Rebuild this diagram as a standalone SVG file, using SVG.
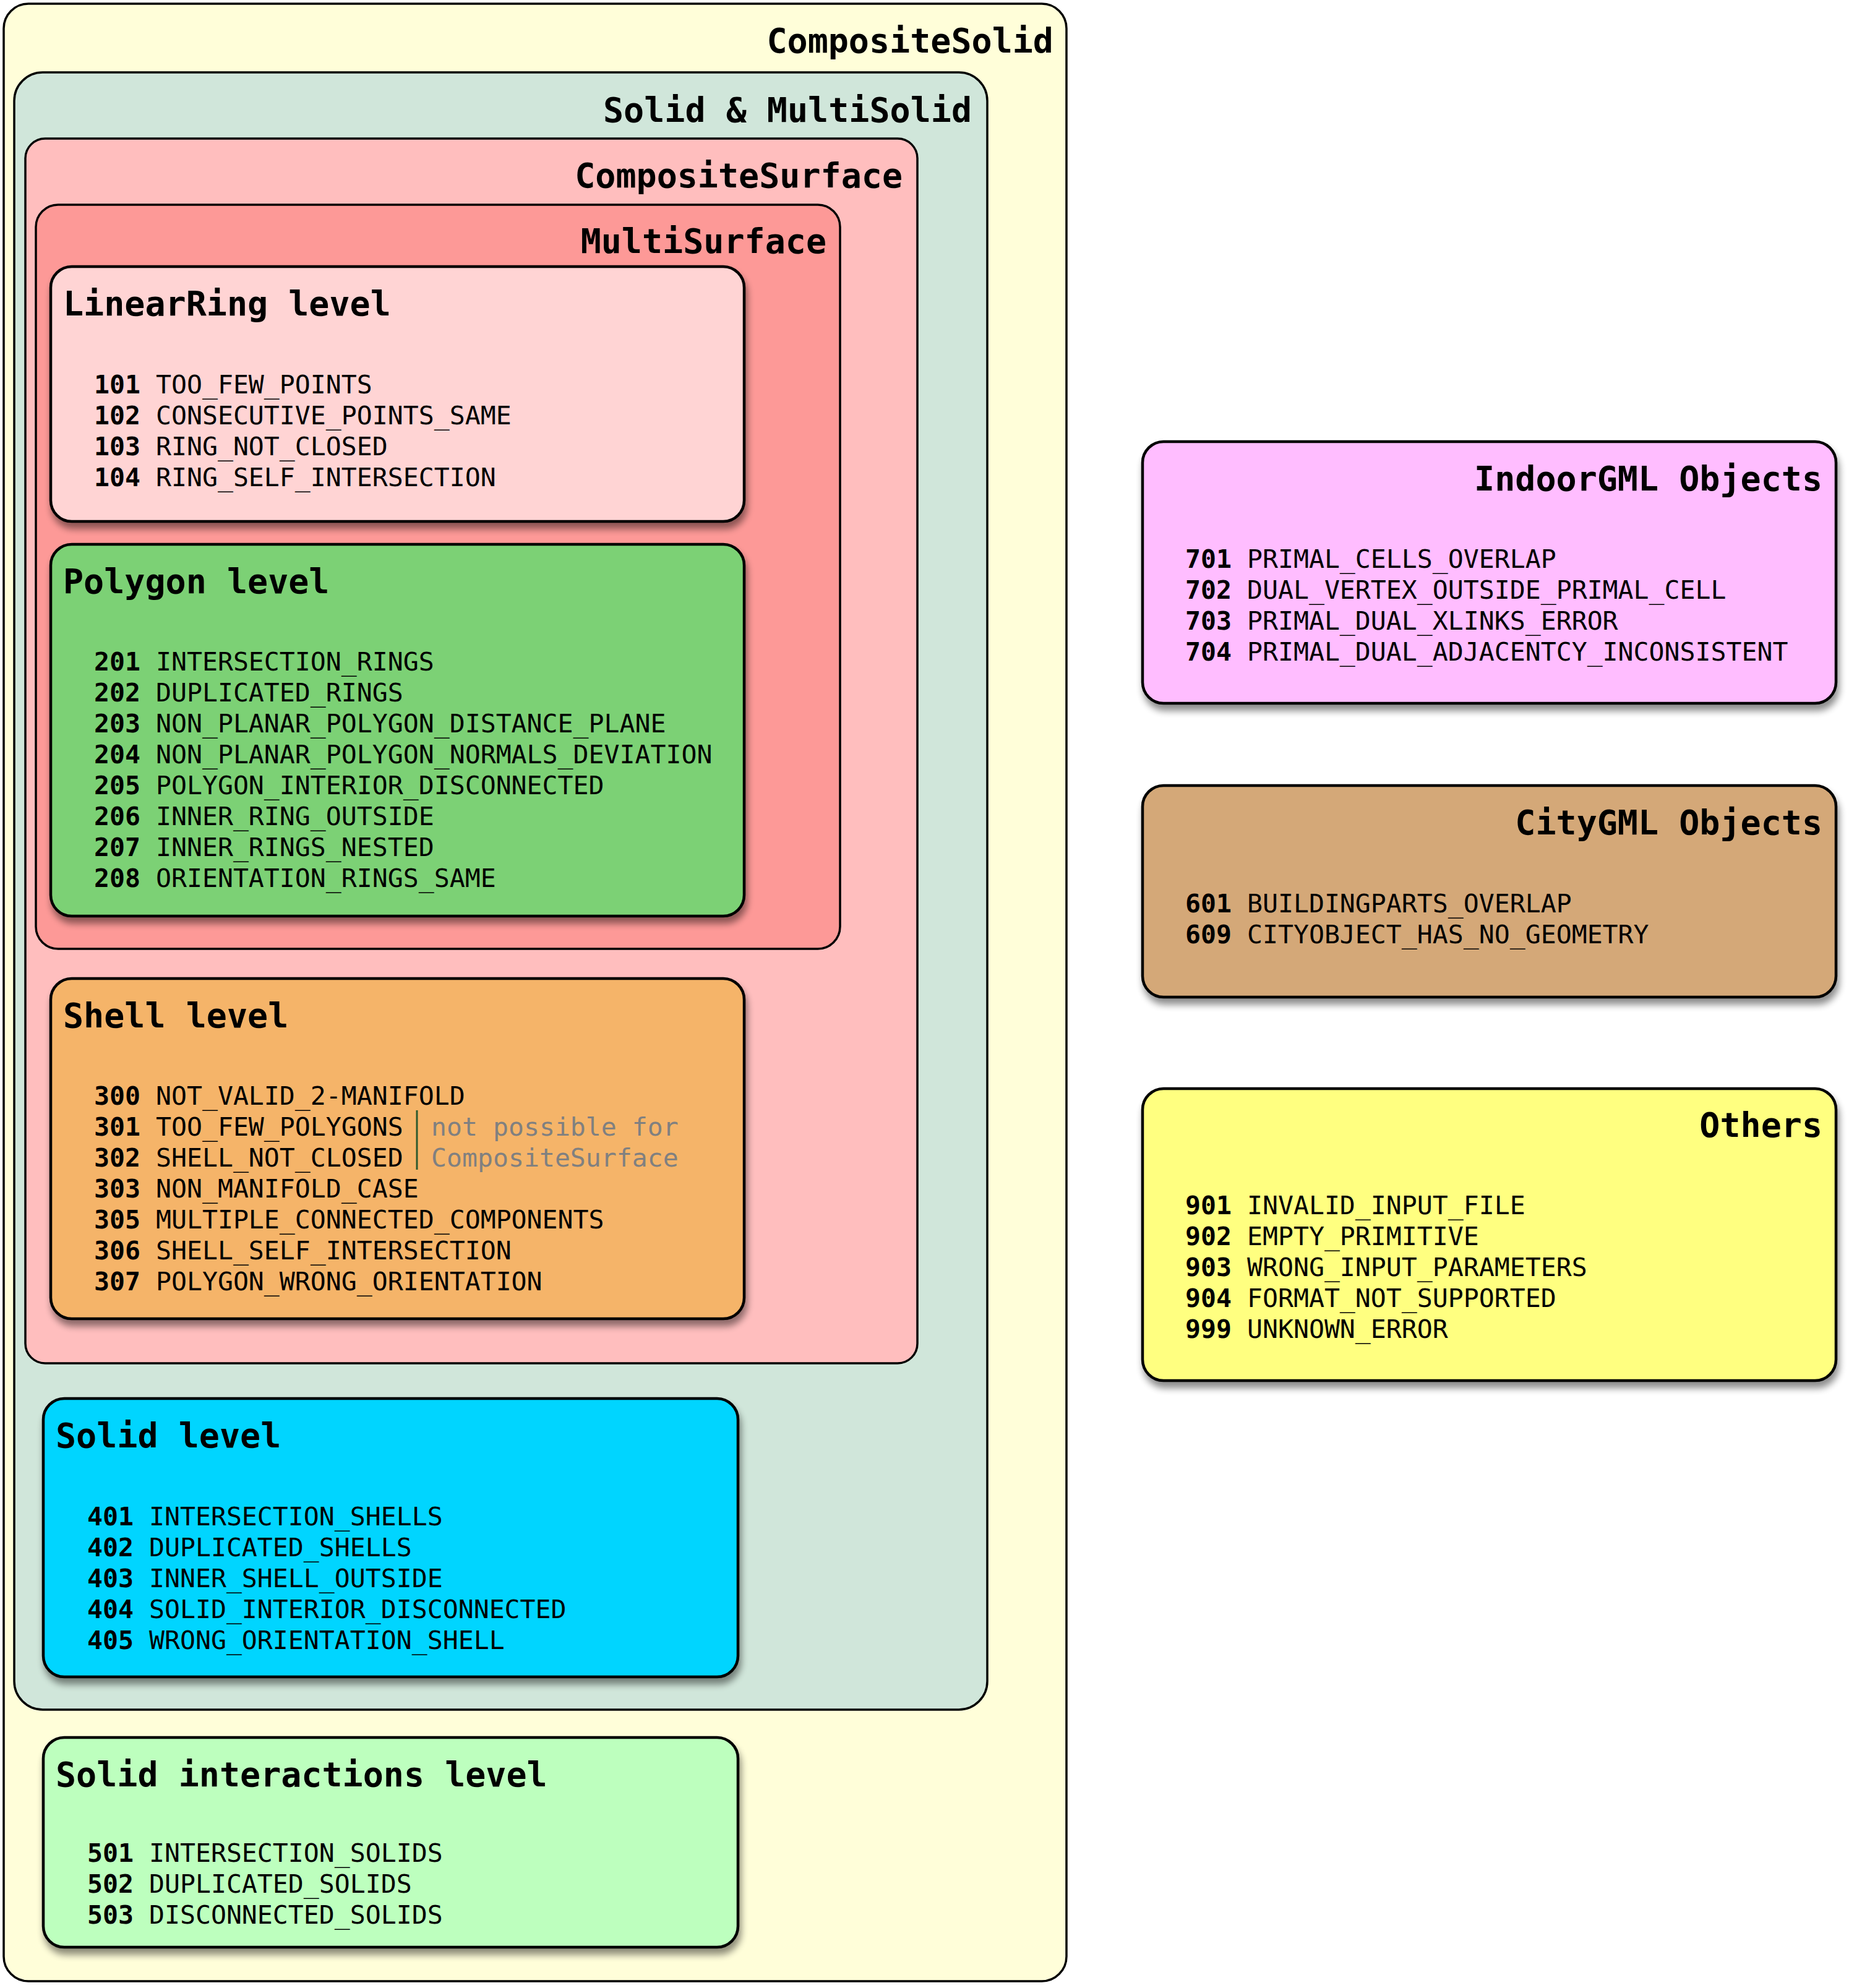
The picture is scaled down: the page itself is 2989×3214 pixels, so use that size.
<svg xmlns="http://www.w3.org/2000/svg" width="2989" height="3214" viewBox="0 0 2989 3214">
<defs>
<filter id="sh" x="-5%" y="-5%" width="112%" height="118%">
<feGaussianBlur in="SourceAlpha" stdDeviation="6"/>
<feOffset dx="3" dy="10" result="b"/>
<feComponentTransfer><feFuncA type="linear" slope="0.45"/></feComponentTransfer>
<feMerge><feMergeNode/><feMergeNode in="SourceGraphic"/></feMerge>
</filter>
</defs>
<style>
.c{stroke:#000;stroke-width:3.5}
.l{stroke:#000;stroke-width:4.5}
text{font-family:"DejaVu Sans Mono","Liberation Mono",monospace;fill:#000}
.t{font-size:55px;font-weight:bold}
.tr{font-size:55px;font-weight:bold;text-anchor:end}
.i{font-size:41.5px}
.n{font-weight:bold}
.g{fill:#808080}
</style>
<rect width="2989" height="3214" fill="#fff"/>
<g id="CompositeSolid">
<rect class="c" x="6" y="6" width="1718" height="3197" rx="40" fill="#FFFED9"/>
<text class="tr" x="1703" y="85">CompositeSolid</text>
</g>
<g id="SolidMultiSolid">
<rect class="c" x="23" y="117" width="1573" height="2647" rx="46" fill="#D0E6DA"/>
<text class="tr" x="1571" y="197">Solid &amp; MultiSolid</text>
</g>
<g id="CompositeSurface">
<rect class="c" x="41" y="224" width="1442" height="1980" rx="32" fill="#FFBEBE"/>
<text class="tr" x="1459" y="303">CompositeSurface</text>
</g>
<g id="MultiSurface">
<rect class="c" x="58" y="331" width="1300" height="1203" rx="36" fill="#FD9997"/>
<text class="tr" x="1336" y="409">MultiSurface</text>
</g>
<g id="LinearRingLevel">
<rect class="l" x="82" y="431" width="1121" height="412" rx="34" fill="#FFD4D4" filter="url(#sh)"/>
<text class="t" x="102" y="510">LinearRing level</text>
<text class="i" x="152" y="636"><tspan class="n">101</tspan> TOO_FEW_POINTS</text>
<text class="i" x="152" y="686"><tspan class="n">102</tspan> CONSECUTIVE_POINTS_SAME</text>
<text class="i" x="152" y="736"><tspan class="n">103</tspan> RING_NOT_CLOSED</text>
<text class="i" x="152" y="786"><tspan class="n">104</tspan> RING_SELF_INTERSECTION</text>
</g>
<g id="PolygonLevel">
<rect class="l" x="82" y="880" width="1121" height="601" rx="34" fill="#7BD174" filter="url(#sh)"/>
<text class="t" x="102" y="959">Polygon level</text>
<text class="i" x="152" y="1084"><tspan class="n">201</tspan> INTERSECTION_RINGS</text>
<text class="i" x="152" y="1134"><tspan class="n">202</tspan> DUPLICATED_RINGS</text>
<text class="i" x="152" y="1184"><tspan class="n">203</tspan> NON_PLANAR_POLYGON_DISTANCE_PLANE</text>
<text class="i" x="152" y="1234"><tspan class="n">204</tspan> NON_PLANAR_POLYGON_NORMALS_DEVIATION</text>
<text class="i" x="152" y="1284"><tspan class="n">205</tspan> POLYGON_INTERIOR_DISCONNECTED</text>
<text class="i" x="152" y="1334"><tspan class="n">206</tspan> INNER_RING_OUTSIDE</text>
<text class="i" x="152" y="1384"><tspan class="n">207</tspan> INNER_RINGS_NESTED</text>
<text class="i" x="152" y="1434"><tspan class="n">208</tspan> ORIENTATION_RINGS_SAME</text>
</g>
<g id="ShellLevel">
<rect class="l" x="82" y="1582" width="1121" height="550" rx="34" fill="#F5B469" filter="url(#sh)"/>
<text class="t" x="102" y="1661">Shell level</text>
<text class="i" x="152" y="1786"><tspan class="n">300</tspan> NOT_VALID_2-MANIFOLD</text>
<text class="i" x="152" y="1836"><tspan class="n">301</tspan> TOO_FEW_POLYGONS</text>
<text class="i" x="152" y="1886"><tspan class="n">302</tspan> SHELL_NOT_CLOSED</text>
<text class="i" x="152" y="1936"><tspan class="n">303</tspan> NON_MANIFOLD_CASE</text>
<text class="i" x="152" y="1986"><tspan class="n">305</tspan> MULTIPLE_CONNECTED_COMPONENTS</text>
<text class="i" x="152" y="2036"><tspan class="n">306</tspan> SHELL_SELF_INTERSECTION</text>
<text class="i" x="152" y="2086"><tspan class="n">307</tspan> POLYGON_WRONG_ORIENTATION</text>
<line x1="674" y1="1795" x2="674" y2="1891" stroke="#2E5A2E" stroke-width="3"/>
<text class="i g" x="697" y="1836">not possible for</text>
<text class="i g" x="697" y="1886">CompositeSurface</text>
</g>
<g id="SolidLevel">
<rect class="l" x="70" y="2261" width="1123" height="450" rx="34" fill="#00D5FF" filter="url(#sh)"/>
<text class="t" x="90" y="2340">Solid level</text>
<text class="i" x="141" y="2466"><tspan class="n">401</tspan> INTERSECTION_SHELLS</text>
<text class="i" x="141" y="2516"><tspan class="n">402</tspan> DUPLICATED_SHELLS</text>
<text class="i" x="141" y="2566"><tspan class="n">403</tspan> INNER_SHELL_OUTSIDE</text>
<text class="i" x="141" y="2616"><tspan class="n">404</tspan> SOLID_INTERIOR_DISCONNECTED</text>
<text class="i" x="141" y="2666"><tspan class="n">405</tspan> WRONG_ORIENTATION_SHELL</text>
</g>
<g id="SolidInteractionsLevel">
<rect class="l" x="70" y="2809" width="1123" height="339" rx="34" fill="#BDFFBE" filter="url(#sh)"/>
<text class="t" x="90" y="2888">Solid interactions level</text>
<text class="i" x="141" y="3010"><tspan class="n">501</tspan> INTERSECTION_SOLIDS</text>
<text class="i" x="141" y="3060"><tspan class="n">502</tspan> DUPLICATED_SOLIDS</text>
<text class="i" x="141" y="3110"><tspan class="n">503</tspan> DISCONNECTED_SOLIDS</text>
</g>
<g id="IndoorGMLObjects">
<rect class="l" x="1847" y="714" width="1121" height="423" rx="34" fill="#FFBDFF" filter="url(#sh)"/>
<text class="tr" x="2946" y="793">IndoorGML Objects</text>
<text class="i" x="1916" y="918"><tspan class="n">701</tspan> PRIMAL_CELLS_OVERLAP</text>
<text class="i" x="1916" y="968"><tspan class="n">702</tspan> DUAL_VERTEX_OUTSIDE_PRIMAL_CELL</text>
<text class="i" x="1916" y="1018"><tspan class="n">703</tspan> PRIMAL_DUAL_XLINKS_ERROR</text>
<text class="i" x="1916" y="1068"><tspan class="n">704</tspan> PRIMAL_DUAL_ADJACENTCY_INCONSISTENT</text>
</g>
<g id="CityGMLObjects">
<rect class="l" x="1847" y="1270" width="1121" height="342" rx="34" fill="#D4A878" filter="url(#sh)"/>
<text class="tr" x="2946" y="1349">CityGML Objects</text>
<text class="i" x="1916" y="1475"><tspan class="n">601</tspan> BUILDINGPARTS_OVERLAP</text>
<text class="i" x="1916" y="1525"><tspan class="n">609</tspan> CITYOBJECT_HAS_NO_GEOMETRY</text>
</g>
<g id="Others">
<rect class="l" x="1847" y="1760" width="1121" height="472" rx="34" fill="#FFFF80" filter="url(#sh)"/>
<text class="tr" x="2946" y="1838">Others</text>
<text class="i" x="1916" y="1963"><tspan class="n">901</tspan> INVALID_INPUT_FILE</text>
<text class="i" x="1916" y="2013"><tspan class="n">902</tspan> EMPTY_PRIMITIVE</text>
<text class="i" x="1916" y="2063"><tspan class="n">903</tspan> WRONG_INPUT_PARAMETERS</text>
<text class="i" x="1916" y="2113"><tspan class="n">904</tspan> FORMAT_NOT_SUPPORTED</text>
<text class="i" x="1916" y="2163"><tspan class="n">999</tspan> UNKNOWN_ERROR</text>
</g>
<g id="connectors"></g>
</svg>
